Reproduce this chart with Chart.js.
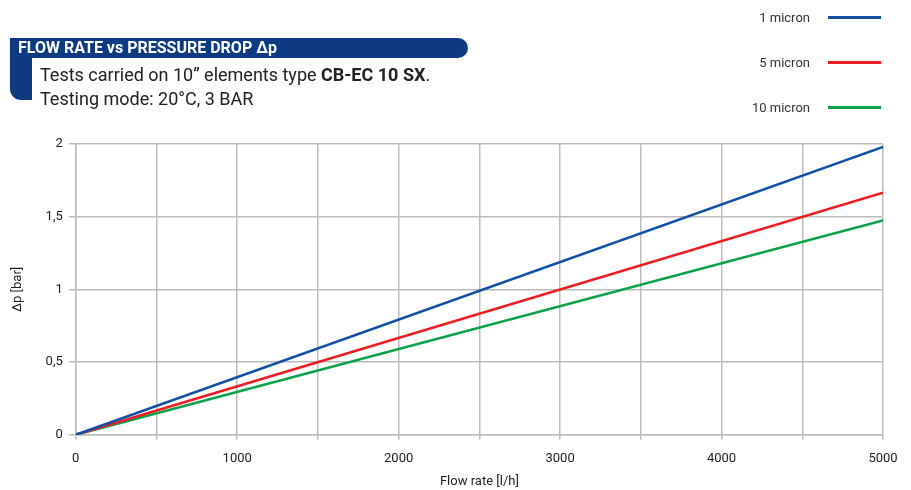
<!DOCTYPE html>
<html>
<head>
<meta charset="utf-8">
<script src="https://cdn.jsdelivr.net/npm/chart.js@4"></script>
<style>
  body { margin: 0; background: #fff; }
  #wrap { position: relative; width: 911px; height: 490px; font-family: "Liberation Sans Narrow", Roboto, sans-serif; }
  #chart { position: absolute; left: 0; top: 0; }
  #band { position: absolute; left: 10px; top: 38px; width: 458px; height: 20px; background: #0e3a82; border-radius: 0 10px 10px 0; }
  #bar { position: absolute; left: 10px; top: 38px; width: 22px; height: 62px; background: #0e3a82; border-radius: 0 0 0 11px; }
  #title { position: absolute; left: 18px; top: 38px; line-height: 20px; color: #fff; font-weight: bold; font-size: 16px; }
  .sub { position: absolute; left: 40px; color: #222; font-size: 18px; }
  .lg { position: absolute; font-size: 13px; color: #333; white-space: nowrap; }
  .ln { position: absolute; height: 3px; width: 53px; }
</style>
</head>
<body>
<div id="wrap">
  <canvas id="chart" width="911" height="490"></canvas>
  <div id="band"></div>
  <div id="bar"></div>
  <div id="title">FLOW RATE vs PRESSURE DROP Δp</div>
  <div class="sub" style="top:64px">Tests carried on 10” elements type <b>CB-EC 10 SX</b>.</div>
  <div class="sub" style="top:88px">Testing mode: 20°C, 3 BAR</div>
  <div id="legendBox"></div>
</div>
<script>
// portata l/h
const flowRates = [0, 5000];
// perdita di carico bar
const drop1 = [0, 1.98];
const drop5 = [0, 1.665];
const drop10 = [0, 1.475];
const seriesNames = ["1 micron", "5 micron", "10 micron"];
const seriesColors = ["#1350a5", "#ec1c24", "#0ba24a"];

const yTicks = [0, 0.5, 1, 1.5, 2];

function pts(ys) {
    return flowRates.map(function(x, i) { return { x: x, y: ys[i] }; });
}

const allDrops = [drop1, drop5, drop10];

// legenda a destra in alto
const box = document.getElementById('legendBox');
seriesNames.forEach(function(name, i) {
    const y = 17 + i * 45;
    const t = document.createElement('div');
    t.className = 'lg';
    t.textContent = name;
    t.style.right = (911 - 810) + 'px';
    t.style.top = (y - 7) + 'px';
    box.appendChild(t);
    const l = document.createElement('div');
    l.className = 'ln';
    l.style.left = '828px';
    l.style.top = (y - 1) + 'px';
    l.style.background = seriesColors[i];
    box.appendChild(l);
});

const ctx = document.getElementById('chart').getContext('2d');
const grid = '#bcbcbc';

new Chart(ctx, {
    type: 'line',
    data: {
        datasets: allDrops.map(function(d, i) {
            return {
                label: seriesNames[i],
                data: pts(d),
                borderColor: seriesColors[i],
                borderWidth: 2.5,
                pointRadius: 0,
                tension: 0
            };
        })
    },
    options: {
        responsive: false,
        animation: false,
        layout: { padding: { top: 144, right: 28, left: 6, bottom: 0 } },
        plugins: { legend: { display: false }, tooltip: { enabled: false } },
        scales: {
            x: {
                type: 'linear',
                min: 0,
                max: 5000,
                ticks: {
                    stepSize: 500,
                    autoSkip: false,
                    maxRotation: 0,
                    padding: 11,
                    color: '#222',
                    font: { family: "Liberation Sans Narrow, Roboto", size: 13 },
                    callback: function(v) { return v % 1000 === 0 ? String(v) : ''; }
                },
                grid: { color: grid, lineWidth: 1.5, tickLength: 5 },
                border: { color: grid, width: 1.5 },
                title: { display: true, text: 'Flow rate [l/h]', color: '#222', font: { family: "Liberation Sans Narrow, Roboto", size: 13 }, padding: { top: -3, bottom: 0 } }
            },
            y: {
                min: 0,
                max: 2,
                afterBuildTicks: function(s) { s.ticks = yTicks.map(function(v) { return { value: v }; }); },
                ticks: {
                    color: '#222',
                    padding: 6,
                    font: { family: "Liberation Sans Narrow, Roboto", size: 13 },
                    callback: function(v) { return String(v).replace('.', ','); }
                },
                grid: { color: grid, lineWidth: 1.5, tickLength: 7 },
                border: { color: grid, width: 1.5 },
                title: { display: true, text: 'Δp [bar]', color: '#222', font: { family: "Liberation Sans Narrow, Roboto", size: 13 }, padding: { bottom: 14 } }
            }
        }
    }
});
</script>
</body>
</html>
